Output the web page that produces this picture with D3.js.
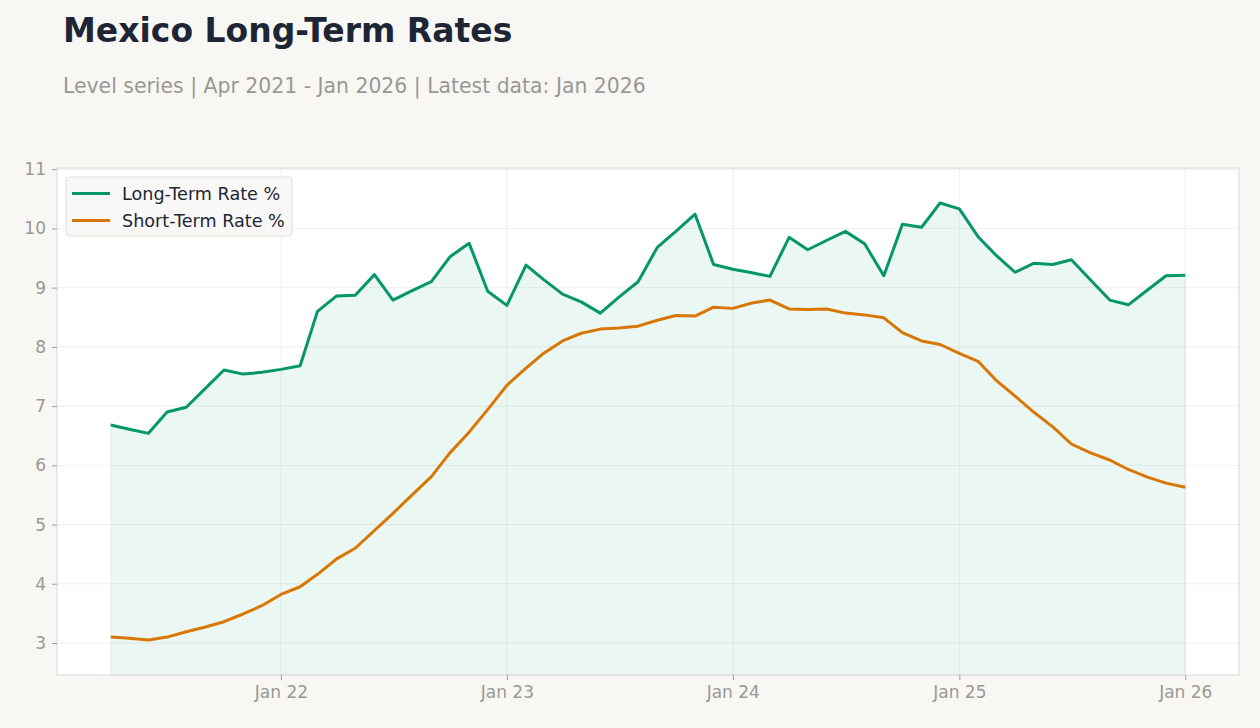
<!DOCTYPE html>
<html>
<head>
<meta charset="utf-8">
<script src="https://cdn.jsdelivr.net/npm/d3@7"></script>
<style>
  body { margin: 0; background: #f8f7f4; font-family: "DejaVu Sans", sans-serif; }
  svg { display: block; }
</style>
</head>
<body>
<svg id="chart" width="1260" height="728"></svg>
<script>
// monthly, Apr 2021 .. Jan 2026
var startMonth = new Date(2021, 3, 1);
var monthCount = 58;

var longTerm = [
  6.68, 6.61, 6.54, 6.90, 6.98, 7.30, 7.61, 7.54, 7.57,
  7.62, 7.68, 8.60, 8.86, 8.87, 9.22, 8.79, 8.95, 9.10, 9.52, 9.75, 8.94,
  8.70, 9.38, 9.14, 8.89, 8.76, 8.57, 8.84, 9.10, 9.68, 9.95, 10.24, 9.39,
  9.31, 9.25, 9.19, 9.85, 9.64, 9.80, 9.95, 9.74, 9.20, 10.07, 10.02, 10.43,
  10.33, 9.85, 9.55, 9.26, 9.41, 9.39, 9.47, 9.13, 8.79, 8.71, 8.96, 9.20,
  9.21
];

var shortTerm = [
  3.10, 3.08, 3.05, 3.10, 3.19, 3.27, 3.36, 3.49, 3.63,
  3.82, 3.95, 4.16, 4.42, 4.60, 4.90, 5.19, 5.50, 5.81, 6.21, 6.56, 6.94,
  7.35, 7.64, 7.89, 8.10, 8.23, 8.30, 8.32, 8.35, 8.45, 8.53, 8.52, 8.67,
  8.65, 8.74, 8.79, 8.64, 8.63, 8.64, 8.57, 8.54, 8.49, 8.24, 8.10, 8.04,
  7.89, 7.75, 7.44, 7.17, 6.90, 6.65, 6.36, 6.21, 6.09, 5.93, 5.80, 5.70,
  5.63
];

var yTicks = [3, 4, 5, 6, 7, 8, 9, 10, 11];
var xTicks = [new Date(2022, 0, 1), new Date(2023, 0, 1), new Date(2024, 0, 1), new Date(2025, 0, 1), new Date(2026, 0, 1)];

var seriesNames = ["Long-Term Rate %", "Short-Term Rate %"];
var colors = ["#059669", "#d97706"];

var dates = d3.range(monthCount).map(function(i) {
  return new Date(startMonth.getFullYear(), startMonth.getMonth() + i, 1);
});

var rows = dates.map(function(d, i) {
  return { date: d, lt: longTerm[i], st: shortTerm[i] };
});

var svg = d3.select("#chart");
var margins = { top: 168, right: 21, bottom: 53, left: 57 };
var width = +svg.attr("width") - margins.left - margins.right,
    height = +svg.attr("height") - margins.top - margins.bottom;

// 5% padding on the time range, like the original
var span = dates[dates.length - 1] - dates[0];
var x = d3.scaleTime()
  .domain([new Date(+dates[0] - span * 0.05), new Date(+dates[dates.length - 1] + span * 0.05)])
  .range([0, width]);
var y = d3.scaleLinear().domain([2.46, 11.02]).range([height, 0]);

// title
svg.append("text")
  .attr("x", 63).attr("y", 42)
  .attr("font-size", 33).attr("font-weight", "bold")
  .attr("fill", "#1e2636")
  .text("Mexico Long-Term Rates");

svg.append("text")
  .attr("x", 63).attr("y", 93)
  .attr("font-size", 20.4).attr("fill", "#9a9894")
  .text("Level series | Apr 2021 - Jan 2026 | Latest data: Jan 2026");

var g = svg.append("g")
  .attr("transform", "translate(" + margins.left + "," + margins.top + ")");

g.append("rect")
  .attr("width", width).attr("height", height)
  .attr("fill", "#ffffff");

// grid
g.selectAll(".hgrid").data(yTicks).enter().append("line")
  .attr("x1", 0).attr("x2", width)
  .attr("y1", function(d) { return y(d); }).attr("y2", function(d) { return y(d); })
  .attr("stroke", "#ebebeb").attr("stroke-width", 0.8);

g.selectAll(".vgrid").data(xTicks).enter().append("line")
  .attr("x1", function(d) { return x(d); }).attr("x2", function(d) { return x(d); })
  .attr("y1", 0).attr("y2", height)
  .attr("stroke", "#ebebeb").attr("stroke-width", 0.8);

// area under long-term rate
var area = d3.area()
  .x(function(d) { return x(d.date); })
  .y0(height)
  .y1(function(d) { return y(d.lt); });

g.append("path")
  .datum(rows)
  .attr("d", area)
  .attr("fill", colors[0])
  .attr("fill-opacity", 0.08)
  .attr("stroke", colors[0])
  .attr("stroke-opacity", 0.08)
  .attr("stroke-width", 1);

var lineLt = d3.line().x(function(d) { return x(d.date); }).y(function(d) { return y(d.lt); });
var lineSt = d3.line().x(function(d) { return x(d.date); }).y(function(d) { return y(d.st); });

g.append("path").datum(rows).attr("d", lineSt)
  .attr("fill", "none").attr("stroke", colors[1]).attr("stroke-width", 3)
  .attr("stroke-linejoin", "round");

g.append("path").datum(rows).attr("d", lineLt)
  .attr("fill", "none").attr("stroke", colors[0]).attr("stroke-width", 3)
  .attr("stroke-linejoin", "round");

// frame
g.append("rect")
  .attr("width", width).attr("height", height)
  .attr("fill", "none").attr("stroke", "#dcd9d4").attr("stroke-width", 1);

// axes
var yAxis = g.append("g")
  .call(d3.axisLeft(y).tickValues(yTicks).tickSize(5).tickPadding(6).tickFormat(d3.format("d")));
var xAxis = g.append("g")
  .attr("transform", "translate(0," + height + ")")
  .call(d3.axisBottom(x).tickValues(xTicks).tickSize(5).tickPadding(6).tickFormat(d3.timeFormat("Jan %y")));

[yAxis, xAxis].forEach(function(a) {
  a.select(".domain").remove();
  a.selectAll(".tick line").attr("stroke", "#a09d98");
  a.selectAll(".tick text")
    .attr("fill", "#9a9894")
    .attr("font-size", 17)
    .attr("font-family", "DejaVu Sans, sans-serif");
});

// legend
var legend = g.append("g").attr("transform", "translate(9,9)");
legend.append("rect")
  .attr("width", 226).attr("height", 59).attr("rx", 4)
  .attr("fill", "#f9f8f6").attr("stroke", "#e2ddd6");

seriesNames.forEach(function(name, i) {
  var row = legend.append("g").attr("transform", "translate(0," + (16.5 + i * 27) + ")");
  row.append("line")
    .attr("x1", 6).attr("x2", 44).attr("y1", 0).attr("y2", 0)
    .attr("stroke", colors[i]).attr("stroke-width", 3);
  row.append("text")
    .attr("x", 56).attr("y", 6)
    .attr("font-size", 17.6).attr("fill", "#1e2636")
    .text(name);
});
</script>
</body>
</html>
